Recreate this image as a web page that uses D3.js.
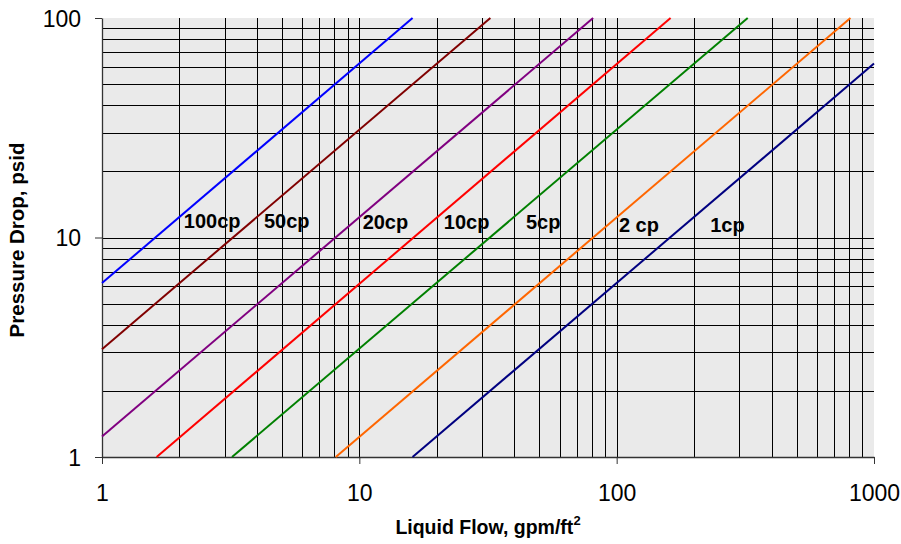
<!DOCTYPE html>
<html>
<head>
<meta charset="utf-8">
<script src="https://cdn.jsdelivr.net/npm/d3@7"></script>
<style>
  body { margin: 0; background: #fff; }
  svg { display: block; font-family: "Liberation Sans", Arial, sans-serif; }
</style>
</head>
<body>
<svg id="chart" width="901" height="544"></svg>
<script>
// viscosity curves, end points (flow gpm/ft2, drop psid)
const viscosities = ["100cp", "50cp", "20cp", "10cp", "5cp", "2 cp", "1cp"];
const flowStart = [1, 1, 1, 1.63, 3.2, 8.1, 16.1];
const dropStart = [6.2, 3.1, 1.24, 1, 1, 1, 1];
const flowEnd = [16.1, 32.3, 81, 162, 323, 810, 1000];
const dropEnd = [100, 100, 100, 100, 100, 100, 62];
const lineColors = ["#0000ff", "#800000", "#800080", "#ff0000", "#008000", "#ff6600", "#000080"];

// where the curve labels sit (data units)
const labelFlow = [2.08, 4.26, 10.3, 21.3, 44.4, 102, 231];
const labelDrop = [11.0, 11.0, 10.9, 10.9, 10.9, 10.6, 10.6];

const xTicks = [1, 10, 100, 1000];
const yTicks = [1, 10, 100];

const width = 901, height = 544;
const margin = { top: 18, right: 27, bottom: 87, left: 102 };

const svg = d3.select("#chart");

const x = d3.scaleLog().domain([1, 1000]).range([margin.left, width - margin.right]);
const y = d3.scaleLog().domain([1, 100]).range([height - margin.bottom, margin.top]);

// plot background
svg.append("rect")
  .attr("x", x(1)).attr("y", y(100))
  .attr("width", x(1000) - x(1)).attr("height", y(1) - y(100))
  .attr("fill", "#eaeaea");

// gridlines (major + minor, skip the plot edges)
const xGrid = x.ticks().filter(d => d > 1 && d < 1000);
const yGrid = y.ticks().filter(d => d > 1 && d < 100);

const grid = svg.append("g").attr("shape-rendering", "crispEdges").attr("stroke", "#000").attr("stroke-width", 1);
grid.selectAll(".vx").data(xGrid).join("line")
  .attr("x1", d => Math.round(x(d)) + 0.5).attr("x2", d => Math.round(x(d)) + 0.5)
  .attr("y1", y(100)).attr("y2", y(1));
grid.selectAll(".hy").data(yGrid).join("line")
  .attr("y1", d => Math.round(y(d)) + 0.5).attr("y2", d => Math.round(y(d)) + 0.5)
  .attr("x1", x(1)).attr("x2", x(1000));

// axes
const xAxis = d3.axisBottom(x).tickValues(xTicks).tickFormat(d3.format("d")).tickSizeInner(7).tickSizeOuter(0).tickPadding(21);
const yAxis = d3.axisLeft(y).tickValues(yTicks).tickFormat(d3.format("d")).tickSizeInner(7).tickSizeOuter(0).tickPadding(14);

const gx = svg.append("g").attr("transform", `translate(0,${y(1)})`).call(xAxis);
const gy = svg.append("g").attr("transform", `translate(${x(1)},0)`).call(yAxis);

[gx, gy].forEach(g => {
  g.select(".domain").attr("stroke", "#333").attr("stroke-width", 1.3);
  g.selectAll(".tick line").attr("stroke", "#333");
  g.selectAll(".tick text").attr("fill", "#000").attr("font-size", 23).attr("font-family", "Liberation Sans, Arial, sans-serif");
});
gy.selectAll(".tick text").attr("dy", "0.36em");

// curves
const series = viscosities.map((name, i) => ({
  name,
  color: lineColors[i],
  pts: [[flowStart[i], dropStart[i]], [flowEnd[i], dropEnd[i]]]
}));

const line = d3.line().x(d => x(d[0])).y(d => y(d[1]));

svg.append("g").selectAll("path").data(series).join("path")
  .attr("d", d => line(d.pts))
  .attr("fill", "none")
  .attr("stroke", d => d.color)
  .attr("stroke-width", 2);

// curve labels
svg.append("g").selectAll("text").data(viscosities).join("text")
  .attr("x", (d, i) => x(labelFlow[i]))
  .attr("y", (d, i) => y(labelDrop[i]))
  .attr("font-size", 20)
  .attr("font-weight", "bold")
  .attr("fill", "#000")
  .text(d => d);

// axis titles
const xt = svg.append("text")
  .attr("x", (x(1) + x(1000)) / 2)
  .attr("y", 534)
  .attr("text-anchor", "middle")
  .attr("font-size", 19.5)
  .attr("font-weight", "bold");
xt.append("tspan").text("Liquid Flow, gpm/ft");
xt.append("tspan").attr("font-size", 13).attr("dy", -9).text("2");

svg.append("text")
  .attr("transform", `translate(24,240) rotate(-90)`)
  .attr("text-anchor", "middle")
  .attr("font-size", 20.5)
  .attr("font-weight", "bold")
  .text("Pressure Drop, psid");
</script>
</body>
</html>
